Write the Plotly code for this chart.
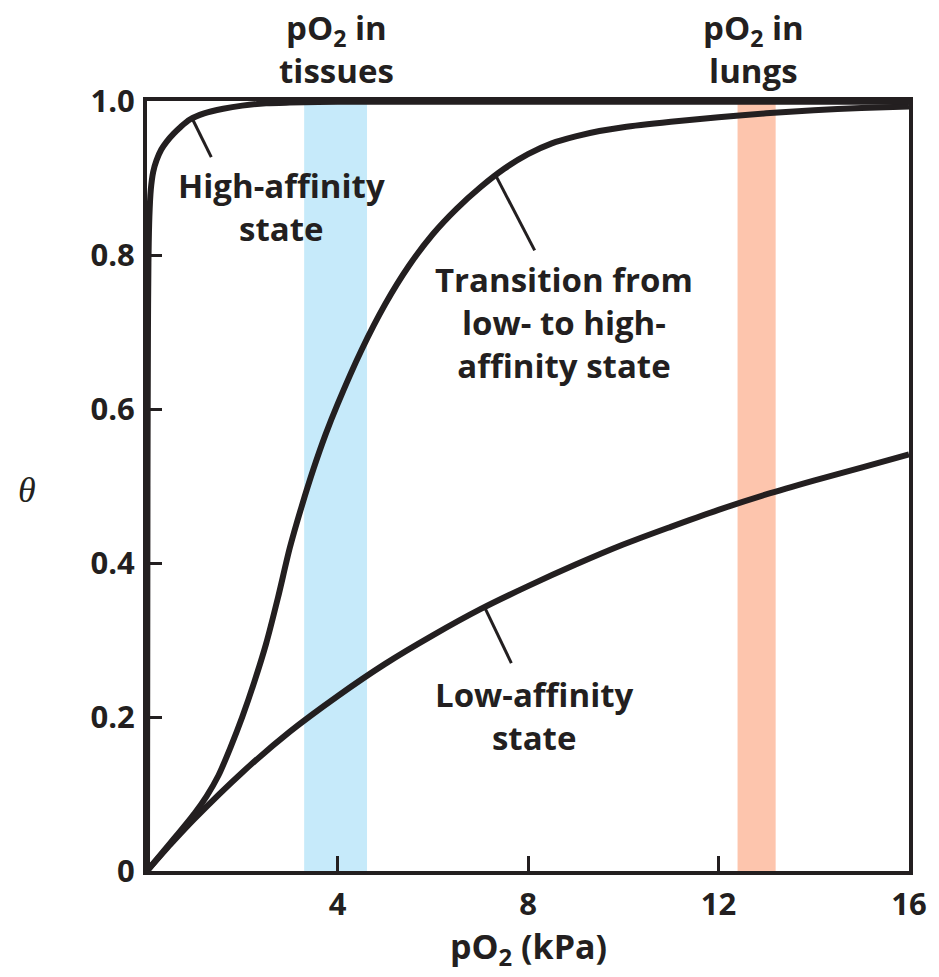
import plotly.graph_objects as go

# --- data ---
high_x = [0, 0.01, 0.02, 0.03, 0.05, 0.08, 0.13, 0.2, 0.3, 0.41, 0.55, 0.7, 0.9, 1.2, 1.6, 2.0, 2.5, 3.0, 4.0, 6.0, 8.0, 12.0, 16.0]
high_y = [0, 0.5, 0.7, 0.79, 0.85, 0.885, 0.908, 0.923, 0.937, 0.947, 0.957, 0.966, 0.976, 0.984, 0.99, 0.994, 0.997, 0.998, 0.999, 0.999, 0.999, 0.999, 0.999]

trans_x = [0, 0.5, 1.0, 1.25, 1.5, 1.75, 2.0, 2.25, 2.5, 2.75, 3.0, 3.25, 3.5, 3.75, 4.0, 4.5, 5.0, 5.5, 6.0, 6.5, 7.0, 7.5, 8.0, 8.5, 9.0, 9.5, 10.0, 11.0, 12.0, 13.0, 14.0, 15.0, 16.0]
trans_y = [0, 0.037, 0.075, 0.097, 0.124, 0.16, 0.2, 0.245, 0.295, 0.355, 0.42, 0.474, 0.523, 0.567, 0.606, 0.676, 0.736, 0.786, 0.827, 0.86, 0.888, 0.912, 0.931, 0.945, 0.954, 0.961, 0.966, 0.973, 0.979, 0.984, 0.988, 0.991, 0.993]

low_x = [0, 0.5, 1, 2, 3, 4, 5, 6, 7, 8, 9, 10, 11, 12, 13, 14, 15, 16]
low_y = [0, 0.035, 0.068, 0.128, 0.181, 0.227, 0.269, 0.306, 0.340, 0.370, 0.398, 0.424, 0.447, 0.469, 0.489, 0.507, 0.524, 0.541]

tissue_band = [3.3, 4.62]
lung_band = [12.4, 13.2]

x_ticks = [0, 4, 8, 12, 16]
x_ticktext = ["", "4", "8", "12", "16"]
y_ticks = [0, 0.2, 0.4, 0.6, 0.8, 1.0]
y_ticktext = ["0", "0.2", "0.4", "0.6", "0.8", "1.0"]

INK = "#231f20"
FONT = "Open Sans"

fig = go.Figure()
for xs, ys in [(low_x, low_y), (trans_x, trans_y), (high_x, high_y)]:
    fig.add_trace(go.Scatter(x=xs, y=ys, mode="lines",
                             line=dict(color=INK, width=6, shape="spline", smoothing=0.8),
                             hoverinfo="skip", showlegend=False))

fig.add_shape(type="rect", xref="x", yref="y", x0=tissue_band[0], x1=tissue_band[1], y0=0, y1=1,
              fillcolor="#c6eafa", line_width=0, layer="below")
fig.add_shape(type="rect", xref="x", yref="y", x0=lung_band[0], x1=lung_band[1], y0=0, y1=1,
              fillcolor="#fdc5ad", line_width=0, layer="below")

# leader lines
leaders = [((0.967, 0.975), (1.35, 0.927)),
           ((7.30, 0.906), (8.14, 0.806)),
           ((7.10, 0.341), (7.65, 0.270))]
for (x0, y0), (x1, y1) in leaders:
    fig.add_shape(type="line", xref="x", yref="y", x0=x0, y0=y0, x1=x1, y1=y1,
                  line=dict(color=INK, width=3))

def txt(x, y, s, size=33, xref="x", yref="y"):
    fig.add_annotation(x=x, y=y, xref=xref, yref=yref, text=s, showarrow=False,
                       font=dict(family=FONT, size=size, color=INK, weight="bold"),
                       xanchor="center", yanchor="middle", align="center")

def py(p):
    return (871 - p) / 770.0

def px(p):
    return (p - 147) / 766.0

# in-plot labels
txt(2.83, py(207), "High-affinity<br>state")
txt(8.75, py(322), "Transition from<br>low- to high-<br>affinity state")
txt(8.13, py(716), "Low-affinity<br>state")

# top labels
txt(px(337), py(49), "pO<sub>2</sub> in<br>tissues", xref="paper", yref="paper")
txt(px(757), py(49), "pO<sub>2</sub> in<br>lungs", xref="paper", yref="paper")

# axis titles
txt(px(530), py(948), "pO<sub>2</sub> (kPa)", size=34, xref="paper", yref="paper")
fig.add_annotation(x=px(26), y=py(490), xref="paper", yref="paper", text="<i>θ</i>", showarrow=False,
                   font=dict(family="Liberation Serif", size=36, color=INK),
                   xanchor="center", yanchor="middle")

axis_common = dict(showline=True, linewidth=4, linecolor=INK, mirror=True,
                   ticks="inside", ticklen=15, tickwidth=3, tickcolor=INK,
                   showgrid=False, zeroline=False,
                   tickfont=dict(family=FONT, size=31, color=INK, weight="bold"))

fig.update_xaxes(range=[0, 16], tickvals=x_ticks, ticktext=x_ticktext, ticklabelstandoff=3, **axis_common)
fig.update_yaxes(range=[0, 1], tickvals=y_ticks, ticktext=y_ticktext, ticklabelstandoff=2, **axis_common)

fig.update_layout(width=939, height=977, margin=dict(l=147, r=26, t=101, b=106),
                  paper_bgcolor="white", plot_bgcolor="white")

fig.write_html("out.html")
